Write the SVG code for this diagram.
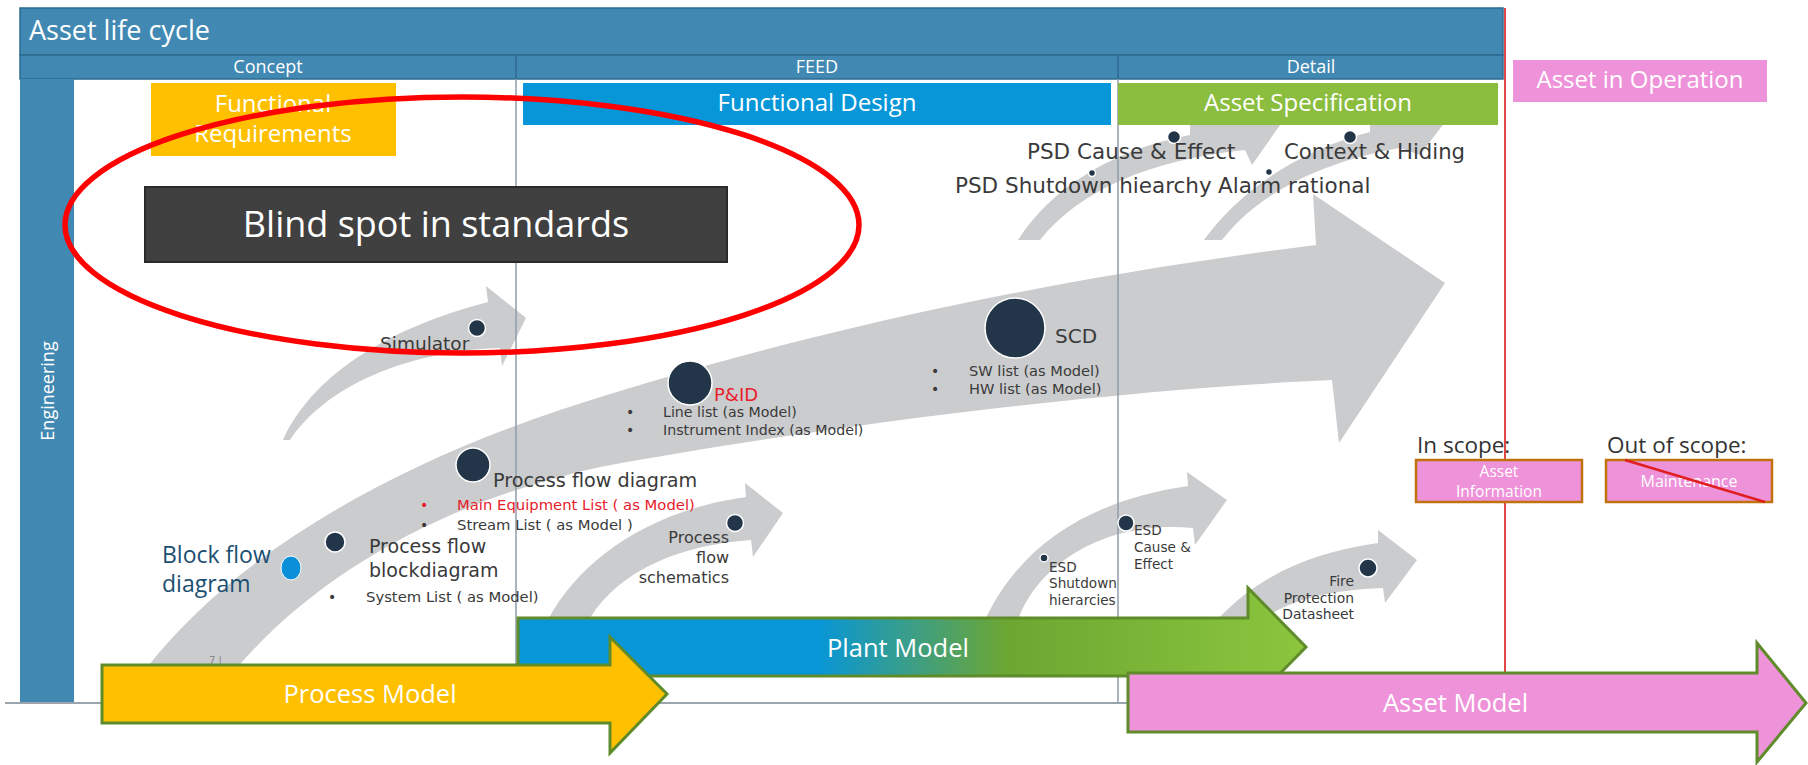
<svg xmlns="http://www.w3.org/2000/svg" width="1808" height="765" viewBox="0 0 1808 765">
<defs>
<linearGradient id="plantGrad" gradientUnits="userSpaceOnUse" x1="518" y1="0" x2="1306" y2="0">
<stop offset="0" stop-color="#0796D8"/>
<stop offset="0.38" stop-color="#0796D8"/>
<stop offset="0.5" stop-color="#3C9E86"/>
<stop offset="0.62" stop-color="#6CA732"/>
<stop offset="1" stop-color="#8CC63E"/>
</linearGradient>
<style>
.hdr{fill:#4189B3;stroke:#2E6A90;stroke-width:1.5}
.hw{fill:#fff;font-family:"Open Sans","Noto Sans",sans-serif}
.lbl{fill:#3A3A3A;font-family:"DejaVu Sans","Noto Sans",sans-serif}
.arr{fill:#CBCCCE}
.dot{fill:#233649;stroke:#fff;stroke-width:1.5}
.div{stroke:#8E9DAA;stroke-width:1.5}
.model{stroke:#5F8B2A;stroke-width:3}
.scope{fill:#EE92D9;stroke:#C0720F;stroke-width:2.5}
.dark{fill:#333;font-family:"Open Sans","Noto Sans",sans-serif}
</style>
</defs>
<rect width="1808" height="765" fill="#fff"/>

<g id="frame">
<rect class="hdr" x="20" y="8" width="1483" height="47"/>
<rect class="hdr" x="20" y="55" width="1483" height="24"/>
<rect x="20" y="79" width="54" height="623" fill="#4189B3"/>
<line x1="516" y1="55" x2="516" y2="79" stroke="#2E6A90" stroke-width="1.5"/>
<line x1="1118" y1="55" x2="1118" y2="79" stroke="#2E6A90" stroke-width="1.5"/>
<line x1="5" y1="703" x2="1140" y2="703" stroke="#9AA5AE" stroke-width="2"/>
<text class="hw" x="29" y="40" font-size="27">Asset life cycle</text>
<text class="hw" x="268" y="73" font-size="18" text-anchor="middle">Concept</text>
<text class="hw" x="817" y="73" font-size="18" text-anchor="middle">FEED</text>
<text class="hw" x="1311" y="73" font-size="18" text-anchor="middle">Detail</text>
<text class="hw" transform="translate(54,391) rotate(-90)" font-size="18" text-anchor="middle">Engineering</text>
<line x1="1505" y1="8" x2="1505" y2="673" stroke="#E04848" stroke-width="2"/>
</g>

<g id="gray-arrows">
<path id="arrow-main" class="arr" d="M145,670 C230,560 380,470 560,410 C760,345 1000,285 1316,245 L1313,194 L1445,283 L1339,443 L1332,380 C1100,390 800,430 600,467 C450,500 320,570 235,670 Z"/>
<path id="arrow-simulator" class="arr" d="M283,440 C310,380 380,330 488,302 L486,286 L526,318 L502,366 L500,348 C420,350 330,380 290,440 Z"/>
<path id="arrow-pfs" class="arr" d="M549,618 C580,560 650,510 746,497 L745,483 L783,513 L753,557 L751,540 C680,545 620,570 590,618 Z"/>
<path id="arrow-esd" class="arr" d="M985,620 C1020,545 1090,500 1188,486 L1187,472 L1227,500 L1195,545 L1193,528 C1110,520 1040,560 1018,620 Z"/>
<path id="arrow-fire" class="arr" d="M1219,618 C1260,575 1310,553 1378,543 L1378,530 L1417,560 L1385,603 L1383,588 C1330,590 1290,600 1265,618 Z"/>
<path id="arrow-psd1" class="arr" d="M1018,240 C1050,190 1110,150 1190,135 L1190,110 L1285,118 L1252,165 L1245,150 C1150,160 1080,190 1040,240 Z"/>
<path id="arrow-psd2" class="arr" d="M1204,240 C1240,190 1300,150 1370,132 L1370,110 L1445,122 L1420,155 L1400,148 C1330,160 1260,190 1222,240 Z"/>
</g>

<g id="dividers">
<line class="div" x1="516" y1="79" x2="516" y2="703"/>
<line class="div" x1="1118" y1="79" x2="1118" y2="703"/>
</g>

<g id="phase-boxes">
<g id="functional-requirements">
<rect x="151" y="83" width="245" height="73" fill="#FFC000"/>
<text class="hw" x="273" y="112" font-size="24" text-anchor="middle">Functional</text>
<text class="hw" x="273" y="142" font-size="24" text-anchor="middle">Requirements</text>
</g>
<g id="functional-design">
<rect x="523" y="83" width="588" height="42" fill="#0796D8"/>
<text class="hw" x="817" y="111" font-size="24" text-anchor="middle">Functional Design</text>
</g>
<g id="asset-specification">
<rect x="1118" y="83" width="380" height="42" fill="#8BBD3F"/>
<text class="hw" x="1308" y="111" font-size="24" text-anchor="middle">Asset Specification</text>
</g>
<g id="asset-in-operation">
<rect x="1513" y="60" width="254" height="42" fill="#EE92D9"/>
<text class="hw" x="1640" y="88" font-size="24" text-anchor="middle">Asset in Operation</text>
</g>
</g>

<g id="blind-spot">
<rect x="145" y="187" width="582" height="75" fill="#404040" stroke="#2A2A2A" stroke-width="2"/>
<text class="hw" x="436" y="237" font-size="36" text-anchor="middle">Blind spot in standards</text>
</g>

<g id="node-simulator">
<circle class="dot" cx="477" cy="328" r="8.5"/>
<text class="lbl" x="380" y="350" font-size="18.5">Simulator</text>
</g>

<g id="node-block-flow">
<ellipse cx="291" cy="568" rx="10" ry="12" fill="#0A8FD8" stroke="#fff" stroke-width="1"/>
<text x="162" y="563" font-size="23" fill="#1B4F72" font-family="Open Sans,Noto Sans,sans-serif">Block flow</text>
<text x="162" y="592" font-size="23" fill="#1B4F72" font-family="Open Sans,Noto Sans,sans-serif">diagram</text>
</g>

<g id="node-pfbd">
<circle class="dot" cx="335" cy="542" r="10"/>
<text class="lbl" x="369" y="553" font-size="19">Process flow</text>
<text class="lbl" x="369" y="577" font-size="19">blockdiagram</text>
<text class="lbl" x="328" y="602" font-size="14">•</text>
<text class="lbl" x="366" y="602" font-size="14.8">System List ( as Model)</text>
</g>

<g id="node-pfd">
<circle class="dot" cx="473" cy="465" r="17"/>
<text class="lbl" x="493" y="487" font-size="19.2">Process flow diagram</text>
<text x="420" y="510" font-size="14" fill="#E8202A" font-family="DejaVu Sans,sans-serif">•</text>
<text x="457" y="510" font-size="14.8" fill="#E8202A" font-family="DejaVu Sans,sans-serif">Main Equipment List ( as Model)</text>
<text class="lbl" x="420" y="530" font-size="14">•</text>
<text class="lbl" x="457" y="530" font-size="14.8">Stream List ( as Model )</text>
</g>

<g id="node-pid">
<circle class="dot" cx="690" cy="383" r="22"/>
<text x="714" y="401" font-size="18" fill="#E8202A" font-family="DejaVu Sans,sans-serif">P&amp;ID</text>
<text class="lbl" x="626" y="417" font-size="14">•</text>
<text class="lbl" x="663" y="417" font-size="14.2">Line list (as Model)</text>
<text class="lbl" x="626" y="435" font-size="14">•</text>
<text class="lbl" x="663" y="435" font-size="14.2">Instrument Index (as Model)</text>
</g>

<g id="node-scd">
<circle class="dot" cx="1015" cy="328" r="30"/>
<text class="lbl" x="1055" y="343" font-size="20">SCD</text>
<text class="lbl" x="931" y="376" font-size="14">•</text>
<text class="lbl" x="969" y="376" font-size="14.6">SW list (as Model)</text>
<text class="lbl" x="931" y="394" font-size="14">•</text>
<text class="lbl" x="969" y="394" font-size="14.6">HW list (as Model)</text>
</g>

<g id="node-pfs">
<circle class="dot" cx="735" cy="523" r="8.5"/>
<text class="lbl" x="729" y="543" font-size="16" text-anchor="end">Process</text>
<text class="lbl" x="729" y="563" font-size="16" text-anchor="end">flow</text>
<text class="lbl" x="729" y="583" font-size="16" text-anchor="end">schematics</text>
</g>

<g id="node-esd-shutdown">
<circle class="dot" cx="1044" cy="558" r="4"/>
<text class="lbl" x="1049" y="572" font-size="13.6">ESD</text>
<text class="lbl" x="1049" y="588" font-size="13.6">Shutdown</text>
<text class="lbl" x="1049" y="605" font-size="13.6">hierarcies</text>
</g>

<g id="node-esd-ce">
<circle class="dot" cx="1126" cy="523" r="8"/>
<text class="lbl" x="1134" y="535" font-size="13.6">ESD</text>
<text class="lbl" x="1134" y="552" font-size="13.6">Cause &amp;</text>
<text class="lbl" x="1134" y="569" font-size="13.6">Effect</text>
</g>

<g id="node-fire">
<circle class="dot" cx="1368" cy="568" r="9"/>
<text class="lbl" x="1354" y="586" font-size="13.9" text-anchor="end">Fire</text>
<text class="lbl" x="1354" y="603" font-size="13.9" text-anchor="end">Protection</text>
<text class="lbl" x="1354" y="619" font-size="13.9" text-anchor="end">Datasheet</text>
</g>

<g id="node-psd">
<circle class="dot" cx="1174" cy="137" r="6.5"/>
<text class="lbl" x="1027" y="159" font-size="21.5">PSD Cause &amp; Effect</text>
<circle class="dot" cx="1092" cy="173" r="3.5"/>
<text class="lbl" x="955" y="193" font-size="21.5">PSD Shutdown hiearchy</text>
</g>

<g id="node-context">
<circle class="dot" cx="1350" cy="137" r="6.5"/>
<text class="lbl" x="1284" y="159" font-size="21.2">Context &amp; Hiding</text>
<circle class="dot" cx="1269" cy="172" r="3.5"/>
<text class="lbl" x="1218" y="193" font-size="21.5">Alarm rational</text>
</g>

<text x="209" y="664" font-size="10" fill="#888" font-family="DejaVu Sans,sans-serif">7 |</text>

<g id="scope">
<text class="dark" x="1417" y="453" font-size="22.5">In scope:</text>
<g id="asset-information">
<rect class="scope" x="1416" y="460" width="166" height="42"/>
<text class="hw" x="1499" y="477" font-size="15.5" text-anchor="middle">Asset</text>
<text class="hw" x="1499" y="497" font-size="15.5" text-anchor="middle">Information</text>
</g>
<text class="dark" x="1607" y="453" font-size="22.5">Out of scope:</text>
<g id="maintenance">
<rect class="scope" x="1606" y="460" width="166" height="42"/>
<text class="hw" x="1689" y="487" font-size="16" text-anchor="middle">Maintenance</text>
<line x1="1625" y1="460" x2="1765" y2="502" stroke="#E02020" stroke-width="2.5"/>
</g>
</g>

<g id="models">
<g id="plant-model">
<polygon class="model" fill="url(#plantGrad)" points="518,618 1248,618 1248,588 1306,647 1248,706 1248,676 518,676"/>
<text class="hw" x="898" y="657" font-size="25.5" text-anchor="middle">Plant Model</text>
</g>
<g id="process-model">
<polygon class="model" fill="#FFC000" points="102,665 610,665 610,637 667,694 610,753 610,723 102,723"/>
<text class="hw" x="370" y="703" font-size="25.5" text-anchor="middle">Process Model</text>
</g>
<g id="asset-model">
<polygon class="model" fill="#EE92D9" points="1128,673 1757,673 1757,643 1806,703 1757,762 1757,732 1128,732"/>
<text class="hw" x="1383" y="712" font-size="25.5">Asset Model</text>
</g>
</g>

<ellipse id="blind-spot-ring" cx="462" cy="225" rx="397" ry="128" fill="none" stroke="#FF0000" stroke-width="5.5"/>
</svg>
